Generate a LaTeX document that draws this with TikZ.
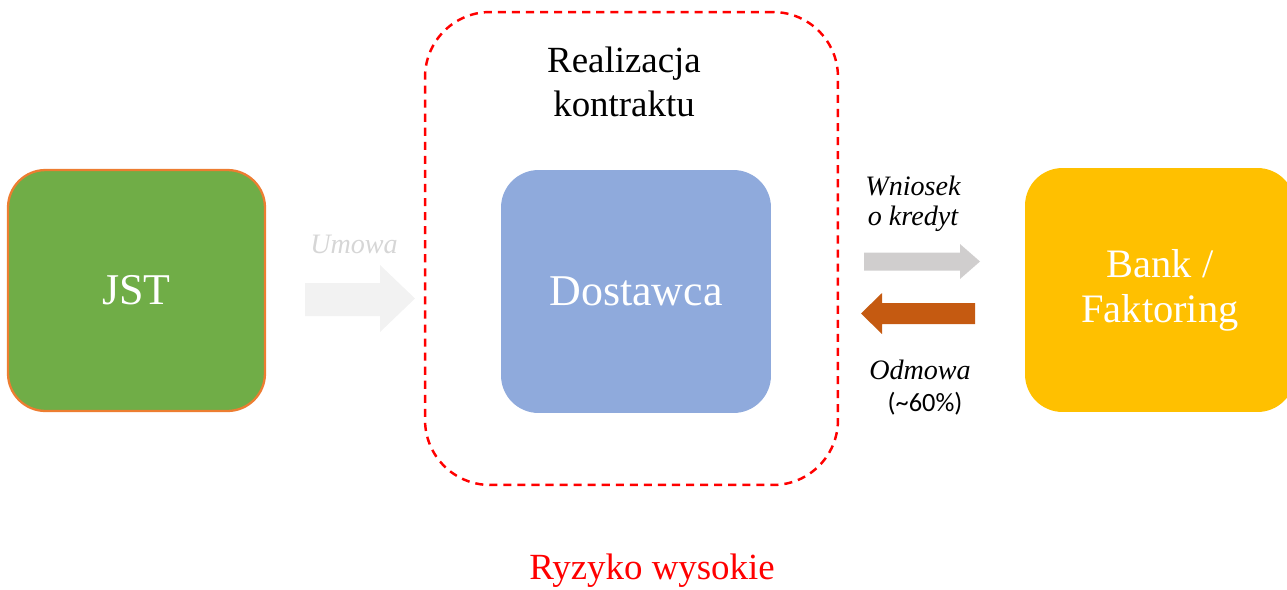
\documentclass[tikz,border=0pt]{standalone}
\usepackage{fontspec}
\setmainfont{Liberation Serif}
\newfontfamily\labelfont{Carlito}
\usetikzlibrary{positioning}
\definecolor{jstgreen}{HTML}{70AD47}
\definecolor{jstedge}{HTML}{ED7D31}
\definecolor{dostblue}{HTML}{8FAADC}
\definecolor{bankyellow}{HTML}{FFC000}
\definecolor{arrowgray}{HTML}{D0CECE}
\definecolor{arrowlight}{HTML}{F2F2F2}
\definecolor{umowagray}{HTML}{D6D6D6}
\definecolor{odmowabrown}{HTML}{C55A11}
\definecolor{riskred}{HTML}{FF0000}

\begin{document}
\begin{tikzpicture}[x=0.02cm,y=-0.02cm,
    box node/.style={rounded corners=0.75cm,minimum width=5.4cm,minimum height=4.86cm,
      text=white,font=\fontsize{25}{30}\selectfont,align=center},
    arrow label/.style={font=\itshape\fontsize{16}{17}\selectfont,align=center}]
   \useasboundingbox (0,0) rectangle (1287,589);

   % boxes
   \node[box node,fill=jstgreen,draw=jstedge,line width=1.3pt,minimum width=5.14cm,
     minimum height=4.82cm] (jst) at (136.5,290.5) {JST};
   \node[box node,fill=dostblue] (dostawca) at (636,291.5) {Dostawca};
   \node[box node,fill=bankyellow,minimum height=4.88cm,
     font=\fontsize{23}{25.5}\selectfont] (bank) at (1160,290) {Bank /\\Faktoring};

   % contract frame
   \node[draw=riskred,dashed,dash pattern=on 4.6pt off 3.4pt,line width=1.4pt,
     rounded corners=1.3cm,minimum width=8.26cm,minimum height=9.46cm] (frame) at (631.5,248.5) {};
   \node[font=\fontsize{21}{25}\selectfont,align=center] (realizacja) at (624,82) {Realizacja\\kontraktu};

   % block arrows
   \fill[arrowlight] (305,283) -- (380,283) -- (380,265) -- (415,298.5) -- (380,332) -- (380,316) -- (305,316) -- cycle;
   \fill[arrowgray] (864,252.5) -- (960,252.5) -- (960,244) -- (980,261.5) -- (960,279) -- (960,270.7) -- (864,270.7) -- cycle;
   \fill[odmowabrown] (975,303) -- (882,303) -- (882,293) -- (861,313.5) -- (882,334) -- (882,324) -- (975,324) -- cycle;

   % labels
   \node[arrow label,text=umowagray] (umowa) at (354,244) {Umowa};
   \node[arrow label] (wniosek) at (913,204) {Wniosek\\o kredyt};
   \node[arrow label] (odmowa) at (920,370) {Odmowa};
   \node[font=\labelfont\fontsize{15}{18}\selectfont] (procent) at (925,404) {(\textasciitilde60\%)};

   \node[text=riskred,font=\fontsize{21}{25}\selectfont] (ryzyko) at (652,571) {Ryzyko wysokie};
  \end{tikzpicture}
\end{document}
